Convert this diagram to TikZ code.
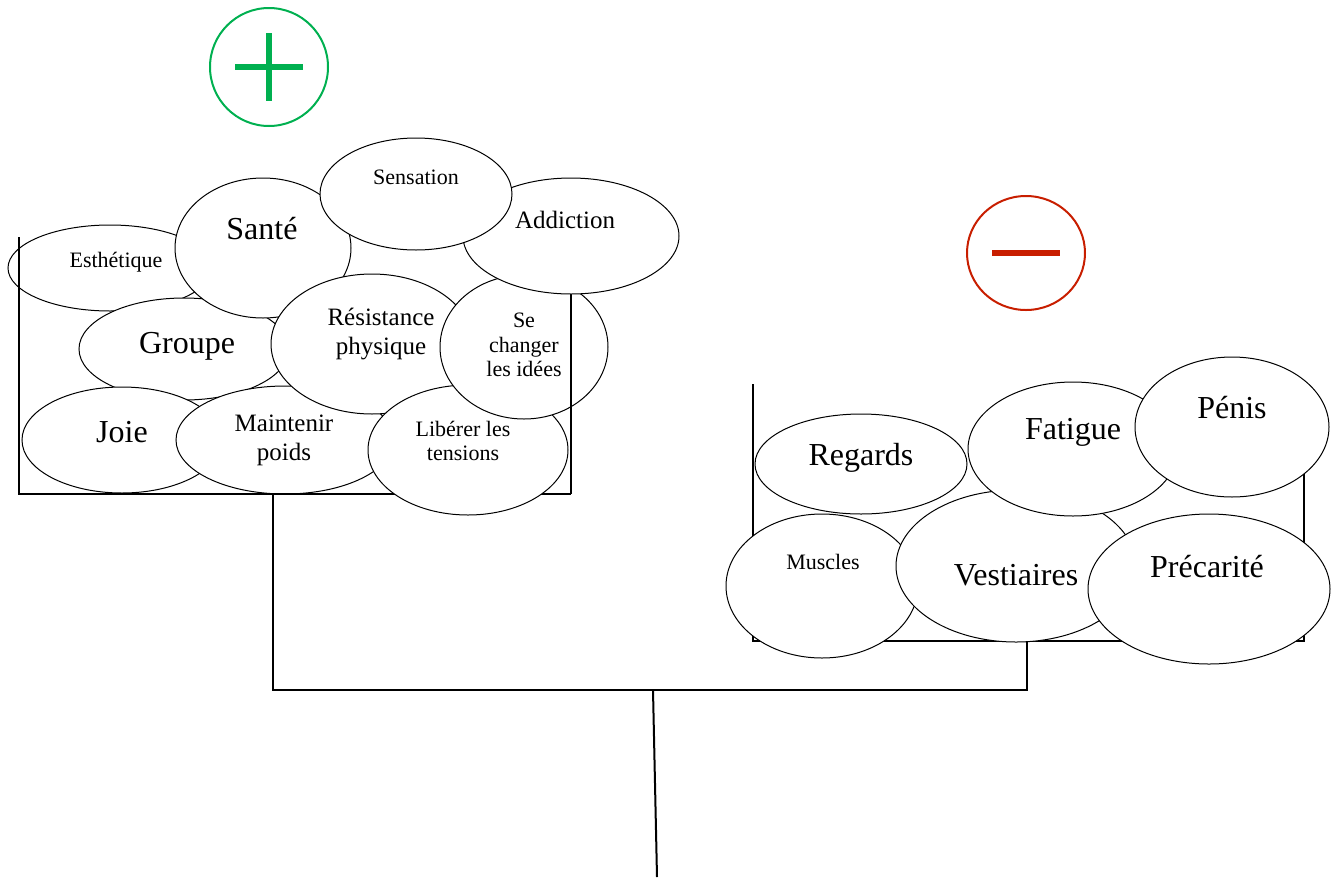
\documentclass[tikz,border=0pt]{standalone}
\usepackage{fontspec}
\setmainfont{Liberation Serif}
\usetikzlibrary{shapes.geometric}
\definecolor{plusgreen}{RGB}{0,176,80}
\definecolor{minusred}{RGB}{200,30,0}
\tikzset{
  bub/.style 2 args={ellipse, draw, fill=white, line width=0.75pt, inner sep=0pt,
    minimum width=#1*1.5pt, minimum height=#2*1.5pt},
  txts/.style={font=\fontsize{16.5}{18.4}\selectfont, align=center},
  txtm/.style={font=\fontsize{18.75}{21.75}\selectfont, align=center},
  txtl/.style={font=\fontsize{24}{28}\selectfont, align=center},
  pan/.style={line width=1.5pt},
}
\begin{document}
\begin{tikzpicture}[x=0.75pt, y=-0.75pt]
    \useasboundingbox (0,0) rectangle (1336,879);
    \node[circle, draw=plusgreen, line width=1.5pt, minimum size=118*0.75pt] (plus) at (269,67) {};
    \draw[plusgreen, line width=5pt] (plus.center) ++(0,-34) -- ++(0,68);
    \draw[plusgreen, line width=5pt] (plus.center) ++(-34,0) -- ++(68,0);
    \node[ellipse, draw=minusred, line width=1.5pt, minimum width=118*0.75pt, minimum height=114*0.75pt] (minus) at (1026,253) {};
    \draw[minusred, line width=5pt] (minus.center) ++(-34,0) -- ++(68,0);

    \node[bub={102}{43}] (esth) at (110,268) {};
    \node[txts] (esthT) at (116,262) {Esthétique};
    \node[bub={105}{51}] (groupe) at (184,349) {};
    \node[txtl] (groupeT) at (187,346) {Groupe};
    \node[bub={88}{70}] (sante) at (263,248) {};
    \node[txtl] (santeT) at (262,229) {Santé};
    \node[bub={100}{53}] (joie) at (122,440) {};
    \node[txtl] (joieT) at (122,432) {Joie};
    \node[bub={109}{54}] (poids) at (285,440) {};
    \node[txtm] (poidsT) at (284,440) {Maintenir\\poids};
    \node[bub={101}{70}] (resist) at (372,344) {};
    \node[txtm] (resistT) at (381,334) {Résistance\\physique};
    \draw[pan] (19,237) -- (19,494) -- (571,494);
    \node[bub={100}{65}] (tension) at (468,450) {};
    \node[txts] (tensionT) at (463,441) {Libérer les\\tensions};
    \node[bub={84}{72}] (idees) at (524,347) {};
    \node[txts] (ideesT) at (524,345) {Se\\changer\\les idées};
    \draw[pan] (571,494) -- (571,293);
    \node[bub={108}{58}] (addict) at (571,236) {};
    \node[txtm] (addictT) at (565,220) {Addiction};
    \node[bub={96}{56}] (sensa) at (416,194) {};
    \node[txts] (sensaT) at (416,177) {Sensation};

    \draw[pan] (753,384) -- (753,641) -- (1304,641) -- (1304,460);
    \node[bub={106}{50}] (regards) at (861,464) {};
    \node[txtl] (regardsT) at (861,458) {Regards};
    \node[bub={96}{72}] (muscles) at (822,586) {};
    \node[txts] (musclesT) at (823,562) {Muscles};
    \node[bub={120}{76}] (vest) at (1016,566) {};
    \node[txtl] (vestT) at (1016,575) {Vestiaires};
    \node[bub={105}{67}] (fatigue) at (1073,449) {};
    \node[txtl] (fatigueT) at (1073,432) {Fatigue};
    \node[bub={97}{70}] (penis) at (1232,427) {};
    \node[txtl] (penisT) at (1232,408) {Pénis};
    \node[bub={121}{75}] (precar) at (1209,589) {};
    \node[txtl] (precarT) at (1207,567) {Précarité};

    \coordinate (lpan) at (273,494);
    \coordinate (rpan) at (1027,641);
    \coordinate (pivot) at (653,690);
    \coordinate (foot) at (657,877);
    \draw[pan] (lpan) |- (pivot) -| (rpan);
    \draw[pan] (pivot) -- (foot);
\end{tikzpicture}
\end{document}
